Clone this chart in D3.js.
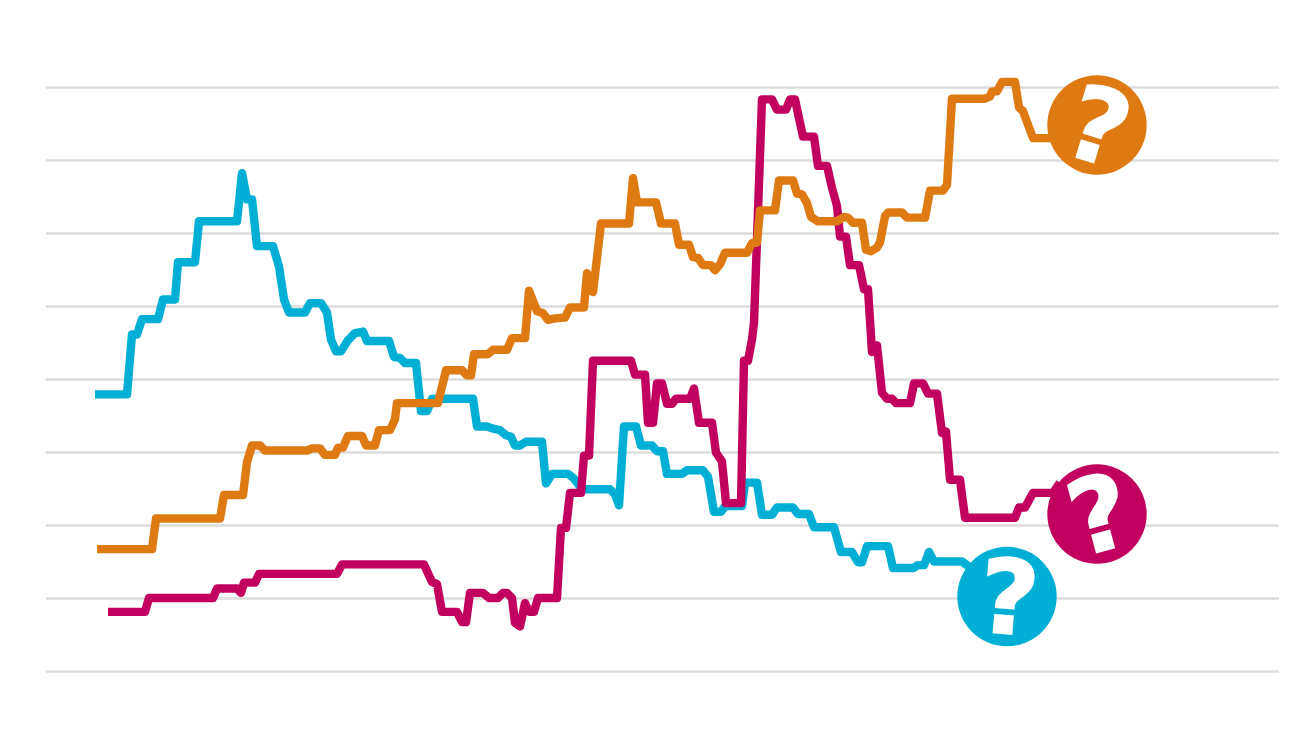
<!DOCTYPE html>
<html>
<head>
<meta charset="utf-8">
<script src="https://cdn.jsdelivr.net/npm/d3@7"></script>
<style>
  html, body { margin: 0; padding: 0; background: #fff; }
  svg { display: block; }
</style>
</head>
<body>
<div id="chart"></div>
<script>
// Values. The time axis has no labels, so it is a plain index.
const gridValues = [0, 10, 20, 30, 40, 50, 60, 70, 80];

const blueTime = [24.5, 40.5, 43, 45.5, 48, 56, 58.5, 64.5, 66, 74.5, 76.5, 95.5, 98, 100.5, 103, 105.5, 113.5, 116.5, 119, 121.5, 129.5, 132, 137.5, 140.5, 142.5, 145, 147.5, 151, 154.5, 158.5, 160.5, 171.5, 174, 177, 179.5, 185, 187.5, 190.5, 193, 213.5, 215.5, 220.5, 223.5, 227, 230, 232.5, 234.5, 237, 240, 248, 250, 253, 261, 263.5, 268, 282, 284.5, 286.5, 289, 295, 297.5, 303, 305.5, 308.5, 310.5, 318, 320.5, 328.5, 331, 334, 337.5, 339.5, 348, 349.5, 355.5, 358, 363, 365.5, 373.5, 376, 381.5, 384, 394, 397.5, 403, 406, 408, 410.5, 421, 423.5, 433.5, 436, 439, 441.5, 444, 458, 462, 469.5];
const blueValues = [37.9, 37.9, 46.1, 46.1, 48.2, 48.2, 50.9, 50.9, 56, 56, 61.6, 61.6, 68.2, 64.6, 64.6, 58.2, 58.2, 55.4, 50.9, 49.1, 49.1, 50.4, 50.4, 49.1, 45.4, 43.8, 43.8, 45.3, 46.3, 46.5, 45.2, 45.2, 43, 42.9, 42.2, 42.2, 35.6, 35.6, 37.3, 37.3, 33.5, 33.5, 33.2, 33, 32.3, 32.1, 30.9, 30.9, 31.4, 31.4, 25.7, 27, 27, 26.5, 24.9, 24.9, 24.2, 22.7, 33.5, 33.5, 30.9, 30.9, 30.1, 30.1, 27, 27, 27.5, 27.5, 26.6, 21.8, 21.8, 22.6, 22.6, 25.8, 25.8, 21.4, 21.4, 22.4, 22.4, 21.5, 21.5, 19.7, 19.7, 16.3, 16.3, 14.9, 14.9, 17.1, 17.1, 14.1, 14.1, 14.5, 14.5, 16.3, 15, 15, 14.2, 11.8];

const orangeTime = [25.5, 53, 55, 87, 89, 98.5, 100.5, 103, 107, 109.5, 130.5, 133, 137, 139.5, 144.5, 146, 148.5, 151, 158, 160, 164.5, 166.5, 172, 174.5, 175.5, 196, 200, 208, 210.5, 212.5, 214, 221, 223.5, 230.5, 233, 239.5, 241.5, 245.5, 248.5, 251, 254.5, 259.5, 262, 269, 270.5, 273.5, 277.5, 291.5, 293.5, 295.5, 305, 307.5, 314.5, 316.5, 321.5, 323.5, 326, 328.5, 332.5, 334.5, 337, 339.5, 350.5, 353, 355.5, 357, 364.5, 366.5, 373.5, 375.5, 378, 380.5, 382.5, 386, 395.5, 399, 401, 403.5, 408, 410, 412.5, 415.5, 417, 419.5, 421, 428, 430.5, 439.5, 442, 448.5, 450.5, 453, 469.5, 472, 473, 475.5, 478, 484.5, 486.5, 488.5, 493.5, 503.5];
const orangeValues = [16.7, 16.7, 20.9, 20.9, 24.1, 24.1, 28.6, 30.9, 30.9, 30.2, 30.2, 30.5, 30.5, 29.6, 29.6, 30.6, 30.6, 32.2, 32.2, 30.9, 30.9, 33, 33, 34.5, 36.7, 36.7, 41.2, 41.2, 40.5, 40.5, 43.4, 43.4, 44, 44, 45.6, 45.6, 52.1, 49.3, 49, 48.1, 48.3, 48.4, 49.8, 49.8, 54.5, 51.9, 61.3, 61.3, 67.5, 64.2, 64.2, 61.3, 61.3, 58.4, 58.4, 56.7, 56.6, 55.6, 55.6, 54.9, 55.7, 57.3, 57.3, 58.6, 58.7, 63.1, 63.1, 67.2, 67.2, 65.4, 65.3, 64.1, 62.2, 61.6, 61.6, 62.2, 62.1, 61.4, 61.4, 57.7, 57.5, 58, 58.7, 62.3, 62.8, 62.8, 62.1, 62.1, 65.8, 65.8, 66.6, 78.4, 78.4, 78.7, 79.4, 79.4, 80.7, 80.7, 77.2, 76.7, 73, 73];

const magentaTime = [31, 49.5, 51.5, 83.5, 85.5, 95.5, 97.5, 99, 104.5, 106.5, 145.5, 148, 189, 193, 195.5, 198, 205.5, 208, 210, 212, 218.5, 221.5, 226, 228.5, 230.5, 233, 234.5, 237, 239.5, 241.5, 244, 246, 255.5, 257.5, 260, 262, 267.5, 269, 271.5, 273.5, 292.5, 294.5, 299.5, 301, 303.5, 305.5, 308, 310.5, 313, 315, 322, 324, 326.5, 333, 335, 338, 340, 347.5, 349, 351, 353, 354, 358, 363, 365.5, 370, 372, 374.5, 377, 378.5, 384, 386, 390.5, 393, 395.5, 397, 400, 402, 406.5, 409, 411, 413, 415.5, 418, 420.5, 423, 425, 432, 434, 438.5, 441, 445.5, 448, 450, 452, 457, 459.5, 484.5, 486.5, 489.5, 493.5, 503.5, 507];
const magentaValues = [8.1, 8.1, 10, 10, 11.3, 11.3, 10.7, 12.1, 12.1, 13.3, 13.3, 14.6, 14.6, 12.2, 11.9, 8.1, 8.1, 6.7, 6.7, 10.7, 10.7, 10, 10, 10.7, 10.7, 10, 6.6, 6.1, 9.3, 8.1, 8.1, 10, 10, 19.6, 19.6, 24.4, 24.4, 29.5, 29.5, 42.5, 42.5, 40.6, 40.6, 34, 34, 39.4, 39.4, 36.6, 36.6, 37.3, 37.3, 38.7, 34, 34, 29.9, 28.7, 23, 23, 42.5, 42.5, 45.4, 47.7, 78.3, 78.3, 76.9, 76.9, 78.3, 78.3, 75.1, 73.2, 73.2, 69.2, 69.2, 66.2, 63.7, 59.5, 59.5, 55.6, 55.6, 52.3, 52.3, 43.7, 44.6, 38.1, 37.3, 37.3, 36.7, 36.7, 39.4, 39.4, 38, 38, 32.6, 32.8, 26.2, 26.2, 21, 21, 22.4, 22.4, 24.4, 24.4, 25.8];

// Question mark badges at the end of each line
const badgeNames = ["blue", "magenta", "orange"];
const badgeTime = [480.5, 525.5, 525.5];
const badgeValues = [10.2, 21.5, 74.8];

const colors = { blue: "#00afd6", magenta: "#c1005f", orange: "#df7a13" };
const tilts = { blue: 5, magenta: -15, orange: 17 };

const series = [
  { name: "blue", time: blueTime, values: blueValues },
  { name: "magenta", time: magentaTime, values: magentaValues },
  { name: "orange", time: orangeTime, values: orangeValues },
];

const DrawChart = (element) => {
  const width = 1300;
  const height = 731;

  const svg = d3
    .select(element)
    .append("svg")
    .attr("width", width)
    .attr("height", height);

  const x = d3.scaleLinear().domain([0, 616.5]).range([46, 1279]);
  const y = d3.scaleLinear().domain([0, 80]).range([671, 87]);

  // Gridlines, no labels in the original
  const grid = svg
    .append("g")
    .attr("transform", "translate(46,0)")
    .call(d3.axisRight(y).tickValues(gridValues).tickSize(1233).tickFormat(""));
  grid.select(".domain").remove();
  grid.selectAll("line").attr("stroke", "#dcdcdc").attr("stroke-width", 2.4);

  const line = d3
    .line()
    .x((d) => x(d[0]))
    .y((d) => y(d[1]));

  // Lines, orange on top
  svg
    .selectAll(".series")
    .data(series)
    .enter()
    .append("path")
    .attr("class", "series")
    .attr("fill", "none")
    .attr("stroke", (d) => colors[d.name])
    .attr("stroke-width", 8.4)
    .attr("stroke-linejoin", "round")
    .attr("d", (d) => line(d3.zip(d.time, d.values)));

  // Badges
  const badges = svg
    .selectAll(".badge")
    .data(badgeNames)
    .enter()
    .append("g")
    .attr("class", "badge")
    .attr("transform", (d, i) => `translate(${x(badgeTime[i])},${y(badgeValues[i])})`);

  badges
    .append("circle")
    .attr("r", 49.7)
    .attr("fill", (d) => colors[d]);

  badges
    .append("text")
    .attr("transform", (d) => `rotate(${tilts[d]})`)
    .attr("text-anchor", "middle")
    .attr("x", 2)
    .attr("y", 37)
    .attr("fill", "#fff")
    .attr("stroke", "#fff")
    .attr("stroke-width", 1.5)
    .attr("font-family", "'DejaVu Sans', sans-serif")
    .attr("font-weight", "bold")
    .attr("font-size", 103)
    .text("?");

  return svg.node();
};

DrawChart("#chart");
</script>
</body>
</html>
